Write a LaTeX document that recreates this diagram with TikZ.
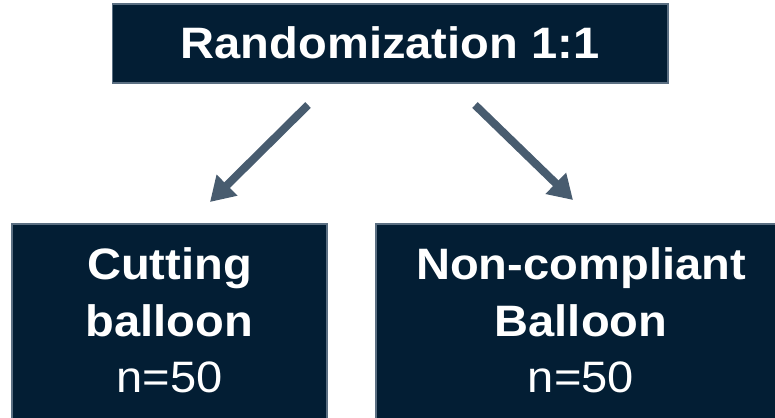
\documentclass[tikz,border=0pt]{standalone}
\usepackage{fontspec}
\setmainfont{Liberation Sans}[FakeStretch=1.07]
\usetikzlibrary{arrows.meta}
\definecolor{navy}{HTML}{031E34}
\definecolor{edgegrey}{HTML}{5B6F82}
\definecolor{arrowgrey}{HTML}{485C6F}
\tikzset{
  box/.style={draw=edgegrey, line width=1.5pt, fill=navy},
  lbl/.style={text=white, anchor=base, inner sep=0pt, font=\fontsize{44}{50}\selectfont\bfseries},
  lblreg/.style={text=white, anchor=base, inner sep=0pt, font=\fontsize{44}{50}\selectfont},
  bigarrow/.style={arrowgrey, line width=8pt, -{Triangle[width=28pt,length=24pt]}}
}
\begin{document}
\begin{tikzpicture}[x=1pt,y=1pt]
\useasboundingbox (0,0) rectangle (775,417);
\begin{scope}
\clip (0,0) rectangle (775,417);
\draw[box] (112.5,334) rectangle (668,413);
\draw[box] (12,-5) rectangle (327,193);
\draw[box] (376,-5) rectangle (790,193);
\end{scope}
\node[lbl] (top) at (390,358.7) {Randomization 1:1};
\node[lbl] (l1) at (169.5,137) {Cutting};
\node[lbl] (l2) at (169.5,80.3) {balloon};
\node[lblreg] (l3) at (169.5,24) {n=50};
\node[lbl] (r1) at (581,137) {Non-compliant};
\node[lbl] (r2) at (581,80.3) {Balloon};
\node[lblreg] (r3) at (581,24) {n=50};
\coordinate (as1) at (308,312);
\coordinate (ae1) at (210,215);
\coordinate (as2) at (475,312);
\coordinate (ae2) at (573,217);
\draw[bigarrow] (as1) -- (ae1);
\draw[bigarrow] (as2) -- (ae2);
\end{tikzpicture}
\end{document}
